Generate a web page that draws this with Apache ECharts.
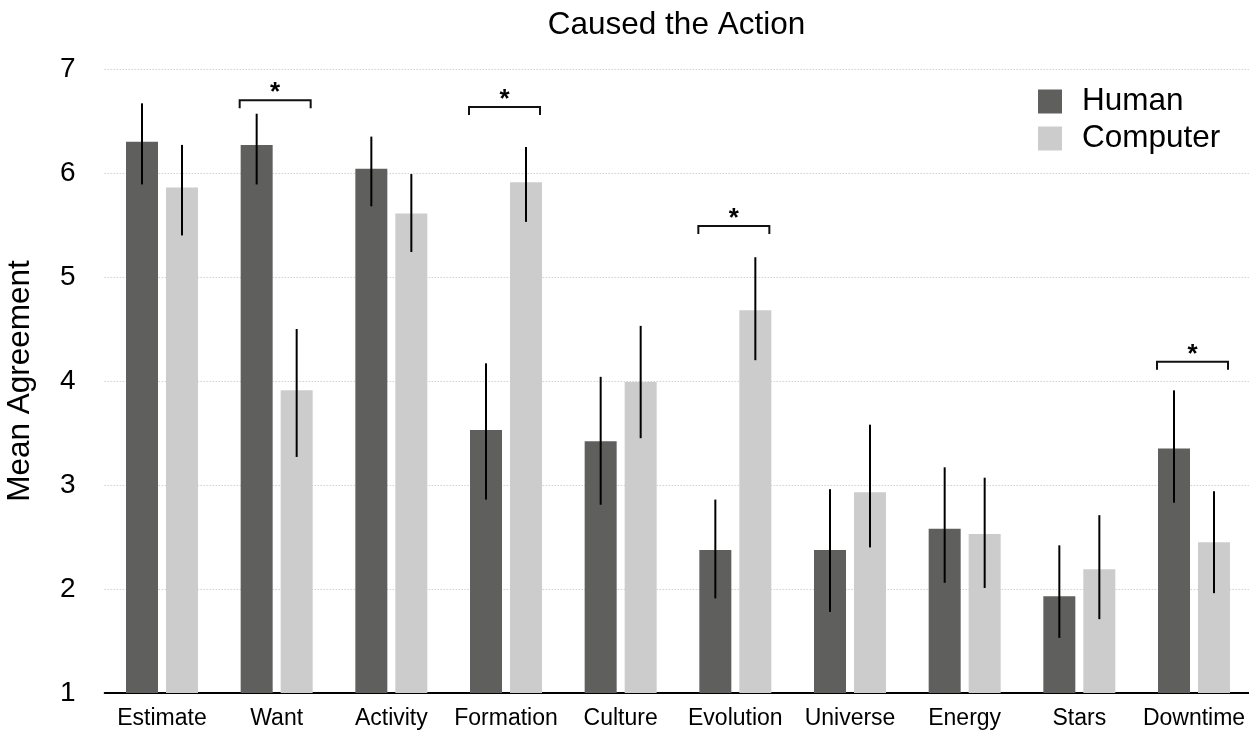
<!DOCTYPE html>
<html>
<head>
<meta charset="utf-8">
<script src="https://cdn.jsdelivr.net/npm/echarts@6/dist/echarts.min.js"></script>
<style>
  html, body { margin: 0; padding: 0; background: #fff; }
  #chart { width: 1249px; height: 732px; }
</style>
</head>
<body>
<div id="chart"></div>
<script>
// ---- data ----
const categories = ['Estimate', 'Want', 'Activity', 'Formation', 'Culture', 'Evolution', 'Universe', 'Energy', 'Stars', 'Downtime'];
const humanMean    = [6.30, 6.27, 6.04, 3.53, 3.42, 2.375, 2.375, 2.58, 1.93, 3.35];
const humanLow     = [5.89, 5.89, 5.68, 2.86, 2.81, 1.91, 1.78, 2.06, 1.53, 2.83];
const humanHigh    = [6.67, 6.57, 6.35, 4.17, 4.04, 2.86, 2.96, 3.17, 2.42, 3.91];
const computerMean = [5.86, 3.91, 5.61, 5.91, 3.99, 4.68, 2.93, 2.53, 2.19, 2.45];
const computerLow  = [5.40, 3.27, 5.24, 5.53, 3.45, 4.20, 2.40, 2.01, 1.71, 1.96];
const computerHigh = [6.27, 4.50, 5.99, 6.25, 4.53, 5.19, 3.58, 3.07, 2.71, 2.94];
const sigCategories = ['Want', 'Formation', 'Evolution', 'Downtime'];
const sigLevels     = [6.70, 6.635, 5.49, 4.185];
const seriesNames = ['Human', 'Computer'];
const titleText = 'Caused the Action';
const yAxisName = 'Mean Agreement';

// ---- styling ----
const FONT = 'Liberation Sans, Arial, Helvetica, sans-serif';
const BAR_W = 32;
const BAR_GAP = 8;
const HALF = (BAR_W + BAR_GAP) / 2;
const HUMAN_COLOR = '#5f5f5e';
const COMP_COLOR = '#cccccc';

function errData(low, high) {
  return categories.map((c, i) => [i, low[i], high[i]]);
}
function errRender(offset) {
  return function (params, api) {
    const idx = api.value(0);
    const x = api.coord([idx, 1])[0] + offset;
    const y1 = api.coord([idx, api.value(1)])[1];
    const y2 = api.coord([idx, api.value(2)])[1];
    return {
      type: 'line',
      shape: { x1: x, y1: y1, x2: x, y2: y2 },
      style: { stroke: '#000', lineWidth: 2 }
    };
  };
}

const sigData = sigCategories.map((c, i) => [categories.indexOf(c), sigLevels[i]]);

const chart = echarts.init(document.getElementById('chart'), null, { renderer: 'canvas' });
chart.setOption({
  animation: false,
  backgroundColor: '#fff',
  title: {
    text: titleText,
    left: 676.5,
    top: 9,
    padding: 0,
    textAlign: 'center',
    textStyle: { fontFamily: FONT, fontSize: 31.5, fontWeight: 'normal', color: '#000' }
  },
  legend: {
    orient: 'vertical',
    left: 1038,
    top: 85.5,
    padding: 0,
    itemWidth: 24,
    itemHeight: 24,
    itemGap: 5,
    icon: 'rect',
    data: seriesNames,
    textStyle: { fontFamily: FONT, fontSize: 31.5, color: '#000', padding: [0, 0, 0, 15] }
  },
  grid: { left: 104.67, top: 69, width: 1146.67, height: 624, outerBoundsMode: 'none', containLabel: false },
  xAxis: {
    type: 'category',
    data: categories,
    axisLine: { lineStyle: { color: '#000', width: 2 } },
    axisTick: { show: false },
    axisLabel: { fontFamily: FONT, fontSize: 23, color: '#000', margin: 14, interval: 0 },
    splitLine: { show: false }
  },
  yAxis: {
    type: 'value',
    min: 1,
    max: 7,
    interval: 1,
    name: yAxisName,
    nameLocation: 'middle',
    nameGap: 68,
    nameTextStyle: { fontFamily: FONT, fontSize: 31.5, color: '#000' },
    axisLine: { show: false },
    axisTick: { show: false },
    axisLabel: { fontFamily: FONT, fontSize: 28, color: '#000', margin: 29 },
    splitLine: { lineStyle: { color: '#bbbbbb', width: 1, type: [1, 2] } }
  },
  series: [
    {
      name: seriesNames[0], type: 'bar', data: humanMean,
      barWidth: BAR_W, barGap: (BAR_GAP / BAR_W * 100) + '%',
      itemStyle: { color: HUMAN_COLOR }
    },
    {
      name: seriesNames[1], type: 'bar', data: computerMean,
      barWidth: BAR_W, barGap: (BAR_GAP / BAR_W * 100) + '%',
      itemStyle: { color: COMP_COLOR }
    },
    {
      type: 'custom', name: 'humanErr', data: errData(humanLow, humanHigh),
      encode: { x: 0, y: [1, 2] }, renderItem: errRender(-HALF), z: 5
    },
    {
      type: 'custom', name: 'computerErr', data: errData(computerLow, computerHigh),
      encode: { x: 0, y: [1, 2] }, renderItem: errRender(HALF), z: 5
    },
    {
      type: 'custom', name: 'sig', data: sigData,
      encode: { x: 0, y: 1 }, z: 6,
      renderItem: function (params, api) {
        const idx = api.value(0);
        const cx = api.coord([idx, 1])[0];
        const y = api.coord([idx, api.value(1)])[1];
        const l = cx - 37, r = cx + 34;
        return {
          type: 'group',
          children: [
            {
              type: 'polyline',
              shape: { points: [[l, y + 8], [l, y], [r, y], [r, y + 8]] },
              style: { stroke: '#111', lineWidth: 2, fill: null }
            },
            {
              type: 'text',
              style: {
                text: '*', x: (l + r) / 2, y: y + 6,
                align: 'center', verticalAlign: 'bottom',
                fontFamily: FONT, fontSize: 26, fontWeight: 'bold', fill: '#000'
              }
            }
          ]
        };
      }
    }
  ]
});
</script>
</body>
</html>
